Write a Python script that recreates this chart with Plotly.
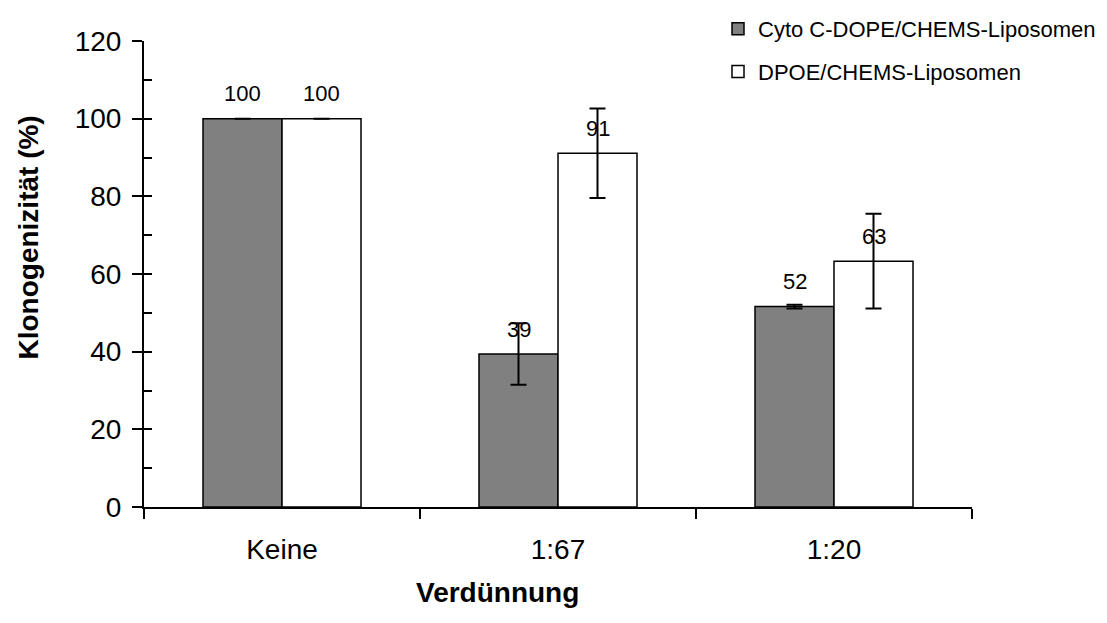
import plotly.graph_objects as go

categories = ["Keine", "1:67", "1:20"]
series_names = ["Cyto C-DOPE/CHEMS-Liposomen", "DPOE/CHEMS-Liposomen"]
cyto_values = [100, 39.4, 51.6]
cyto_errors = [0, 7.9, 0.5]
dpoe_values = [100, 91.1, 63.3]
dpoe_errors = [0, 11.5, 12.2]
y_ticks = [0, 20, 40, 60, 80, 100, 120]
x_title = "Verdünnung"
y_title = "Klonogenizität (%)"

FONT = "Liberation Sans, Arial, sans-serif"
OFF = 8  # page body margin
W, H = 1107 - OFF, 623 - OFF
L, T = 144 - OFF, 41 - OFF
PW, PH = 828, 466
R, B = W - L - PW, H - T - PH

fig = go.Figure()
err_style = dict(type="data", visible=True, color="black", thickness=2, width=8)
fig.add_trace(go.Bar(
    x=categories, y=cyto_values, name=series_names[0],
    marker=dict(color="#808080", line=dict(color="black", width=1.5)),
    error_y=dict(array=cyto_errors, **err_style),
    legendgroup="a",
))
fig.add_trace(go.Bar(
    x=categories, y=dpoe_values, name=series_names[1],
    marker=dict(color="white", line=dict(color="black", width=1.5)),
    error_y=dict(array=dpoe_errors, **err_style),
    legendgroup="b",
))
# invisible trace carrying the inside minor ticks on an overlaid y axis
fig.add_trace(go.Scatter(x=categories, y=[None] * 3, yaxis="y2", showlegend=False, hoverinfo="skip"))

annotations = []
for vals, shift in ((cyto_values, -39.5), (dpoe_values, 39.5)):
    for c, v in zip(categories, vals):
        annotations.append(dict(
            x=c, y=v, xref="x", yref="y", text=f"{v:.0f}", showarrow=False,
            xshift=shift, yshift=25, yanchor="middle",
            font=dict(family=FONT, size=22, color="black"),
        ))
# axis titles placed as in the reference (off-centre)
annotations.append(dict(
    text=f"<b>{y_title}</b>", textangle=-90, showarrow=False,
    xref="paper", yref="paper", x=(27.5 - 144) / PW, y=(507 - 238) / PH,
    xanchor="center", yanchor="middle",
    font=dict(family=FONT, size=28, color="black"),
))
annotations.append(dict(
    text=f"<b>{x_title}</b>", showarrow=False,
    xref="paper", yref="paper", x=(497 - 144) / PW, y=(507 - 592) / PH,
    xanchor="center", yanchor="middle",
    font=dict(family=FONT, size=28, color="black"),
))

fig.update_layout(
    width=W, height=H,
    margin=dict(l=L, r=R, t=T, b=B, autoexpand=False),
    paper_bgcolor="white", plot_bgcolor="white",
    barmode="group", bargap=0.4275, bargroupgap=0,
    font=dict(family=FONT, color="black"),
    showlegend=True,
    legend=dict(
        xref="container", yref="container",
        x=(718 - OFF) / W, y=1 + 3 / H, xanchor="left", yanchor="top",
        font=dict(family=FONT, size=22, color="black"),
        tracegroupgap=11, bgcolor="rgba(0,0,0,0)",
    ),
    xaxis=dict(
        showline=True, linecolor="black", linewidth=2,
        ticks="outside", tickson="boundaries", ticklen=10, tickwidth=2, tickcolor="black",
        tickfont=dict(family=FONT, size=28, color="black"),
        ticklabelstandoff=16,
        showgrid=False, zeroline=False, automargin=False,
    ),
    yaxis=dict(
        range=[0, 120], tickvals=y_ticks,
        showline=True, linecolor="black", linewidth=2,
        ticks="outside", ticklen=10, tickwidth=2, tickcolor="black",
        tickfont=dict(family=FONT, size=28, color="black"),
        ticklabelstandoff=5,
        showgrid=False, zeroline=False, automargin=False,
    ),
    yaxis2=dict(
        range=[0, 120], overlaying="y", side="left", anchor="x",
        dtick=10, tick0=0, ticks="inside", ticklen=8, tickwidth=2, tickcolor="black",
        showticklabels=False, showgrid=False, zeroline=False, showline=False,
    ),
    annotations=annotations,
)

fig.write_html("out.html")
